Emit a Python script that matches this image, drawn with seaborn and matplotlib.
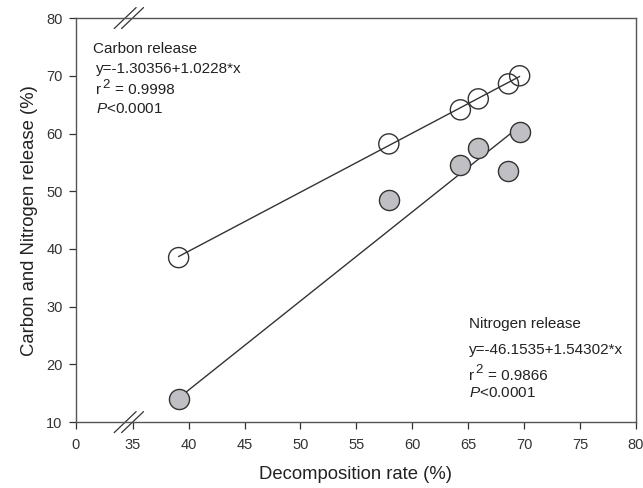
import numpy as np
import matplotlib
matplotlib.use("Agg")
import matplotlib.pyplot as plt
import seaborn as sns

# data
decomp_rate = [39.1, 57.9, 64.3, 65.9, 68.6, 69.6]
carbon_release = [38.5, 58.2, 64.1, 66.0, 68.6, 70.0]
nitrogen_release = [14.0, 48.5, 54.6, 57.5, 53.5, 60.2]

carbon_fit = (-1.30356, 1.0228)
nitrogen_fit = (-46.1535, 1.54302)

x_ticks = [0, 35, 40, 45, 50, 55, 60, 65, 70, 75, 80]
y_ticks = [10, 20, 30, 40, 50, 60, 70, 80]

sns.set_style("ticks")
plt.rcParams['font.family'] = ['Liberation Sans', 'DejaVu Sans']
plt.rcParams['mathtext.fontset'] = 'custom'
plt.rcParams['mathtext.rm'] = 'Liberation Sans'
plt.rcParams['mathtext.it'] = 'Liberation Sans:italic'

# broken x axis: 0..35 squeezed into a short stretch
gap = 5.09

def fwd(x):
    x = np.asarray(x, dtype=float)
    return np.where(x <= 35, x * gap / 35, gap + (x - 35))

def inv(u):
    u = np.asarray(u, dtype=float)
    return np.where(u <= gap, u * 35 / gap, u - gap + 35)

fig = plt.figure(figsize=(6.43, 4.88), dpi=100)
ax = fig.add_axes([0.118, 0.135, 0.871, 0.828])
ax.set_xscale('function', functions=(fwd, inv))

edge = '#333333'
xs = np.array([min(decomp_rate), max(decomp_rate)])
ax.plot(xs, carbon_fit[0] + carbon_fit[1] * xs, color=edge, lw=1.0, zorder=1)
ax.plot(xs, nitrogen_fit[0] + nitrogen_fit[1] * xs, color=edge, lw=1.0, zorder=1)

sns.scatterplot(x=decomp_rate, y=carbon_release, ax=ax, s=210,
                facecolor='none', edgecolor=edge, linewidth=1.0, zorder=2)
sns.scatterplot(x=decomp_rate, y=nitrogen_release, ax=ax, s=210,
                color='#c0c0c4', edgecolor=edge, linewidth=1.0, zorder=2)

ax.set_xlim(0, 80)
ax.set_ylim(10, 80)
ax.set_xticks(x_ticks)
ax.set_xticklabels([str(t) for t in x_ticks])
ax.set_yticks(y_ticks)
ax.minorticks_off()
ax.tick_params(labelsize=10.5, colors='#333333', length=5, width=0.9)
ax.tick_params(axis='x', pad=6.5)
ax.tick_params(axis='y', pad=4.5)
for s in ax.spines.values():
    s.set_color('#555555')
    s.set_linewidth(1.0)

ax.set_xlabel('Decomposition rate (%)', fontsize=13.3, color='#222222', labelpad=10)
ax.set_ylabel('Carbon and Nitrogen release (%)', fontsize=13.3, color='#222222', labelpad=6)

# break marks on top and bottom spines
bx, hx, hy, off = 0.0946, 0.0196, 0.026, 0.0066
for yb in (0.0, 1.0):
    for d in (-off, off):
        ax.plot([bx + d - hx, bx + d + hx], [yb - hy, yb + hy], transform=ax.transAxes,
                color='#333333', lw=0.9, clip_on=False)

tc = '#222222'

def r2_line(x, y, val):
    # r with a near full-size raised 2, as in the original
    ax.text(x, y, 'r', transform=ax.transAxes, fontsize=11, color=tc, va='baseline')
    ax.annotate('2', xy=(x, y), xycoords='axes fraction', xytext=(4.2, 4.5),
                textcoords='offset points', fontsize=9.5, color=tc, va='baseline')
    ax.annotate('= ' + val, xy=(x, y), xycoords='axes fraction', xytext=(13.5, 0),
                textcoords='offset points', fontsize=11, color=tc, va='baseline')

ax.text(0.031, 0.923, 'Carbon release', transform=ax.transAxes, fontsize=11, color=tc, va='center')
ax.text(0.036, 0.873, 'y=-1.30356+1.0228*x', transform=ax.transAxes, fontsize=11, color=tc, va='center')
r2_line(0.036, 0.811, '0.9998')
ax.text(0.036, 0.775, r'$P$<0.0001', transform=ax.transAxes, fontsize=11, color=tc, va='center')

ax.text(0.702, 0.243, 'Nitrogen release', transform=ax.transAxes, fontsize=11, color=tc, va='center')
ax.text(0.702, 0.178, 'y=-46.1535+1.54302*x', transform=ax.transAxes, fontsize=11, color=tc, va='center')
r2_line(0.702, 0.105, '0.9866')
ax.text(0.702, 0.073, r'$P$<0.0001', transform=ax.transAxes, fontsize=11, color=tc, va='center')

fig.savefig('out.png', dpi=100)
